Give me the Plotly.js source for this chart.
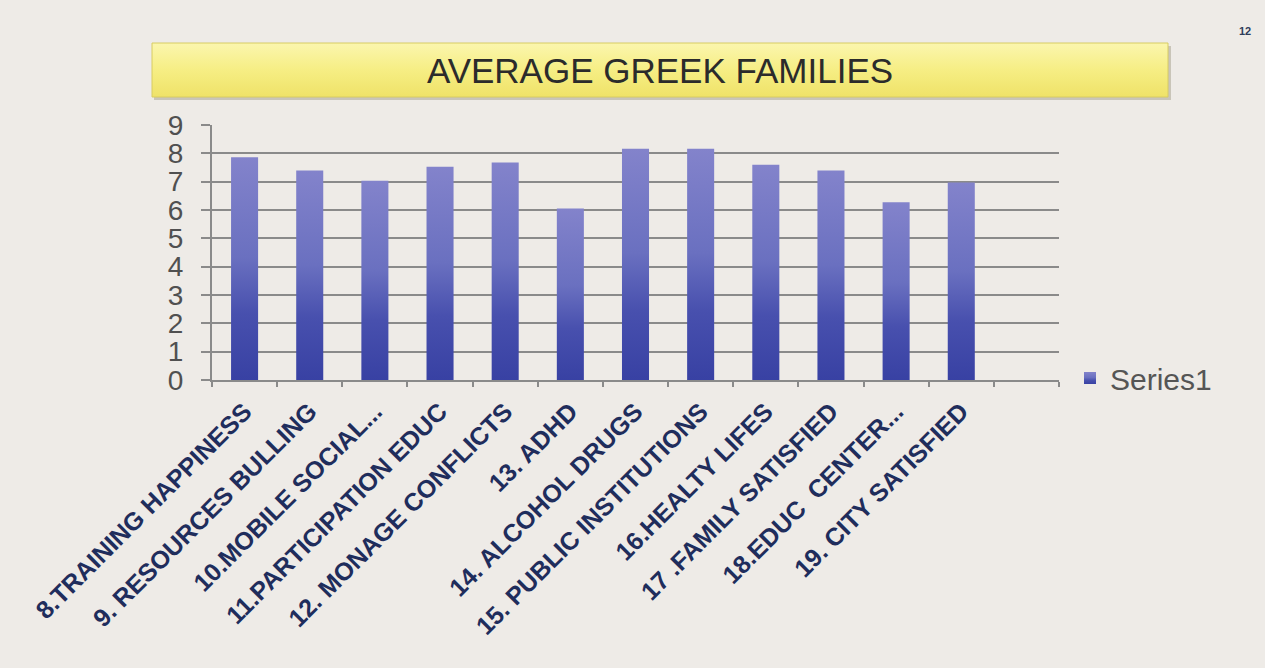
<!DOCTYPE html>
<html>
<head>
<meta charset="utf-8">
<script src="https://cdn.plot.ly/plotly-3.0.1.min.js"></script>
<style>
  html, body { margin: 0; padding: 0; background: #eeebe7; }
  #chart { width: 1265px; height: 668px; }
</style>
</head>
<body>
<div id="chart"></div>
<script>
const categories = [
  "8.TRAINING HAPPINESS",
  "9. RESOURCES BULLING",
  "10.MOBILE SOCIAL...",
  "11.PARTICIPATION EDUC",
  "12. MONAGE CONFLICTS",
  "13. ADHD",
  "14. ALCOHOL DRUGS",
  "15. PUBLIC INSTITUTIONS",
  "16.HEALTY LIFES",
  "17 .FAMILY SATISFIED",
  "18.EDUC  CENTER...",
  "19. CITY SATISFIED",
  "\u00a0"
];
const series1 = [7.86, 7.39, 7.03, 7.53, 7.68, 6.05, 8.16, 8.16, 7.6, 7.39, 6.27, 6.97, null];
const yTicks = [0, 1, 2, 3, 4, 5, 6, 7, 8, 9];
const chartTitle = "AVERAGE GREEK FAMILIES";
const seriesName = "Series1";
const pageNumber = "12";

const W = 1265, H = 668;
const L = 212, R = 206, T = 125, B = 288;
const pw = W - L - R, ph = H - T - B;
const px2x = p => (p - L) / pw;
const py2y = p => (H - B - p) / ph;

const trace = {
  type: 'bar',
  x: categories,
  y: series1,
  name: seriesName,
  marker: { color: '#5a62b8', line: { width: 0 } },
  showlegend: true,
  hoverinfo: 'x+y'
};

const layout = {
  width: W, height: H,
  margin: { l: L, r: R, t: T, b: B, pad: 0 },
  paper_bgcolor: '#eeebe7',
  plot_bgcolor: 'rgba(0,0,0,0)',
  bargap: 0.585,
  font: { family: 'Liberation Sans, Arial, sans-serif' },
  title: {
    text: chartTitle,
    font: { size: 35, color: '#2b2b2b', family: 'Liberation Sans, Arial, sans-serif' },
    x: 660 / W, xanchor: 'center', xref: 'container',
    y: 1 - 71 / H, yanchor: 'middle', yref: 'container'
  },
  xaxis: {
    type: 'category',
    categoryorder: 'array',
    categoryarray: categories,
    tickangle: -45,
    tickfont: { size: 25, color: '#1f2d5c', family: 'Liberation Sans, Arial, sans-serif', weight: 'bold' },
    ticklabelstandoff: 5,
    showline: true, linecolor: '#8a8a8a', linewidth: 2,
    ticks: 'outside', tickson: 'boundaries', ticklen: 5, tickcolor: '#8a8a8a', tickwidth: 2,
    showgrid: false, zeroline: false, automargin: false,
    fixedrange: true
  },
  yaxis: {
    range: [0, 9],
    tickvals: yTicks,
    tickfont: { size: 28, color: '#505050', family: 'Liberation Sans, Arial, sans-serif' },
    showline: true, linecolor: '#8a8a8a', linewidth: 2,
    ticks: 'outside', ticklen: 9, tickcolor: '#8a8a8a', tickwidth: 2,
    ticklabelstandoff: 12,
    showgrid: true, gridcolor: '#8a8a8a', gridwidth: 2,
    zeroline: false, automargin: false,
    fixedrange: true
  },
  legend: {
    x: px2x(1070), xanchor: 'left',
    y: py2y(378), yanchor: 'middle',
    bgcolor: 'rgba(0,0,0,0)',
    font: { size: 30, color: '#555555', family: 'Liberation Sans, Arial, sans-serif' },
    itemwidth: 30
  },
  shapes: [
    { type: 'rect', xref: 'paper', yref: 'paper', layer: 'below',
      x0: px2x(154), x1: px2x(1171), y0: py2y(100), y1: py2y(46),
      fillcolor: '#c9c5b9', line: { width: 0 } },
    { type: 'rect', xref: 'paper', yref: 'paper', layer: 'below',
      x0: px2x(152), x1: px2x(1168), y0: py2y(97), y1: py2y(43),
      fillcolor: '#f6ee84', line: { width: 1, color: '#d8cc62' } }
  ],
  annotations: [
    { text: pageNumber, xref: 'paper', yref: 'paper', showarrow: false,
      x: px2x(1245), y: py2y(31), xanchor: 'center', yanchor: 'middle',
      font: { size: 11, color: '#2e3d5a', family: 'Liberation Sans, Arial, sans-serif', weight: 'bold' } }
  ]
};

Plotly.newPlot('chart', [trace], layout, { displayModeBar: false, staticPlot: true }).then(gd => {
  const svg = gd.querySelector('svg.main-svg');
  const ns = 'http://www.w3.org/2000/svg';
  let defs = svg.querySelector('defs');
  if (!defs) { defs = document.createElementNS(ns, 'defs'); svg.insertBefore(defs, svg.firstChild); }
  function grad(id, stops) {
    const g = document.createElementNS(ns, 'linearGradient');
    g.setAttribute('id', id);
    g.setAttribute('x1', '0'); g.setAttribute('y1', '0');
    g.setAttribute('x2', '0'); g.setAttribute('y2', '1');
    stops.forEach(([o, c]) => {
      const s = document.createElementNS(ns, 'stop');
      s.setAttribute('offset', o); s.setAttribute('stop-color', c);
      g.appendChild(s);
    });
    defs.appendChild(g);
  }
  grad('barGrad', [['0', '#8383cb'], ['0.45', '#6a70c0'], ['0.7', '#4850ae'], ['1', '#3841a3']]);
  grad('titleGrad', [['0', '#fbf6ae'], ['0.5', '#f6ee84'], ['1', '#efe268']]);
  gd.querySelectorAll('.trace.bars .point path').forEach(p => { p.style.fill = 'url(#barGrad)'; });
  gd.querySelectorAll('.legendpoints path').forEach(p => { p.style.fill = 'url(#barGrad)'; });
  const shapePaths = gd.querySelectorAll('.shapelayer path');
  if (shapePaths.length > 1) shapePaths[1].style.fill = 'url(#titleGrad)';
});
</script>
</body>
</html>
